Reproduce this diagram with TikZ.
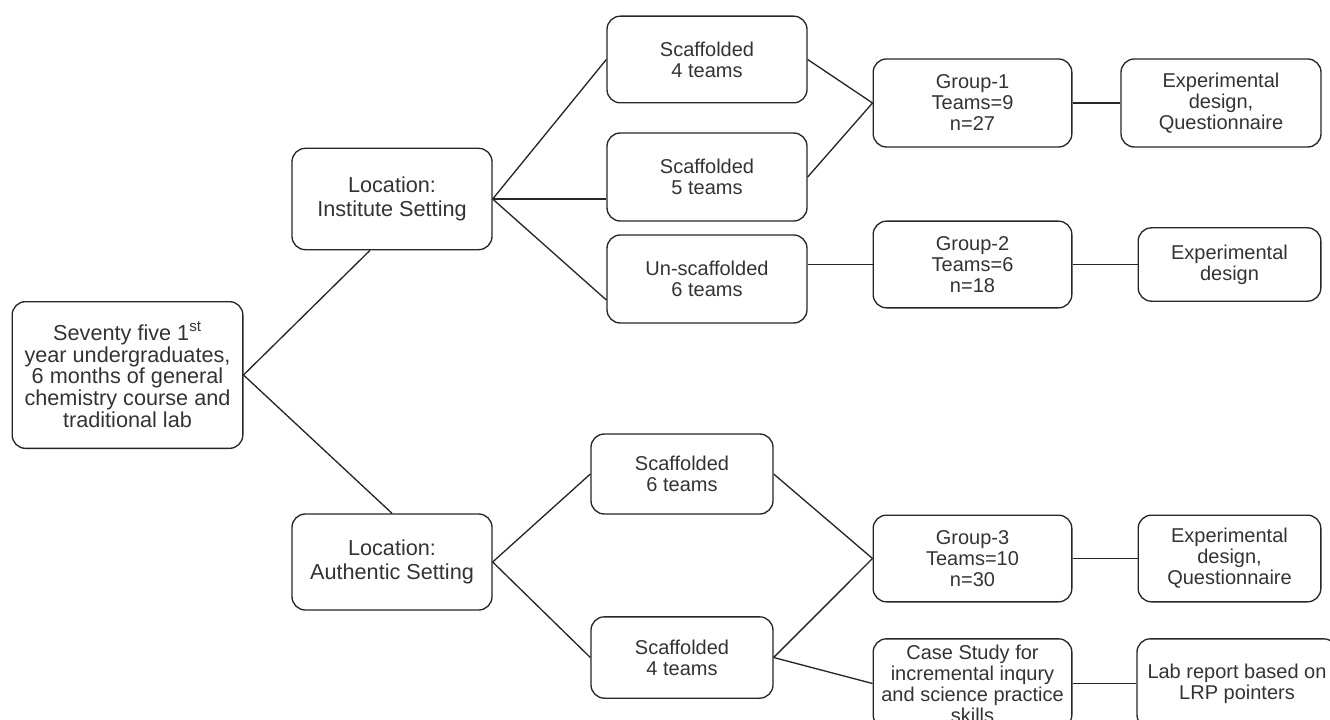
\documentclass[tikz,border=0pt]{standalone}
\usepackage{fontspec}
\setmainfont{Liberation Sans}
\usepackage{xcolor}
\usepackage{tikz}
\usetikzlibrary{calc}

\begin{document}
\begin{tikzpicture}[
  x=0.75pt, y=-0.75pt,
  every node/.style={font=\fontsize{15}{15.75}\selectfont, text=black!80},
  box/.style={draw=black!85, line width=1pt, rounded corners=10pt, minimum width=150pt, minimum height=66pt, align=center, inner sep=2pt},
  bigtext/.style={font=\fontsize{16.25}{16.4}\selectfont},
  loctext/.style={font=\fontsize{16.25}{17.6}\selectfont},
  link/.style={draw=black!85, line width=1pt},
]
\useasboundingbox (0,0) rectangle (1330,720);
\clip (0,0) rectangle (1330,720);
\node[box, bigtext, minimum width=173pt, minimum height=110pt] (root) at (127.5,375) {Seventy five 1\textsuperscript{st}\\year undergraduates,\\6 months of general\\chemistry course and\\traditional lab};
\node[box, loctext, minimum height=76pt] (inst) at (392,199) {Location:\\Institute Setting};
\node[box, loctext, minimum height=72pt] (auth) at (392,562) {Location:\\Authentic Setting};
\node[box, minimum height=65pt] (s4) at (707,59.5) {Scaffolded\\4 teams};
\node[box] (s5) at (707,177) {Scaffolded\\5 teams};
\node[box] (us6) at (707,279) {Un-scaffolded\\6 teams};
\node[box, minimum width=149pt] (g1) at (972.5,103) {Group-1\\Teams=9\\n=27};
\node[box, minimum width=149pt, minimum height=65pt] (g2) at (972.5,264.5) {Group-2\\Teams=6\\n=18};
\node[box] (e1) at (1221,103) {Experimental\\design,\\Questionnaire};
\node[box, minimum width=137pt, minimum height=55pt] (e2) at (1229.5,264.5) {Experimental\\design};
\node[box, minimum width=136.5pt, minimum height=60pt] (s6) at (682,474) {Scaffolded\\6 teams};
\node[box, minimum width=136.5pt, minimum height=61pt] (s4b) at (682,657.5) {Scaffolded\\4 teams};
\node[box, minimum width=149pt, minimum height=65pt] (g3) at (972.5,558.5) {Group-3\\Teams=10\\n=30};
\node[box, minimum width=137pt, minimum height=65pt] (e3) at (1229.5,558.5) {Experimental\\design,\\Questionnaire};
\node[box, minimum width=149pt, minimum height=67pt] (cs) at (972.5,683.5) {Case Study for\\incremental inqury\\and science practice\\skills};
\node[box, minimum height=67pt] (lab) at (1237,683.5) {Lab report based on\\LRP pointers};
% root to locations
\draw[link] (root.east) -- ([xshift=-16.5pt]inst.south);
\draw[link] (root.east) -- (auth.north);
% institute branch
\draw[link] (inst.east) -- (s4.west);
\draw[link] (inst.east) -- (inst.east -| s5.west);
\draw[link] (inst.east) -- ([yshift=-15.75pt]us6.west);
\draw[link] (s4.east) -- (g1.west);
\draw[link] (s5.east) -- (g1.west);
\draw[link] (g2.west -| us6.east) -- (g2.west);
\draw[link] (g1.east) -- (e1.west);
\draw[link] (g2.east) -- (e2.west);
% authentic branch
\draw[link] (auth.east) -- (s6.west);
\draw[link] (auth.east) -- (s4b.west);
\draw[link] (s6.east) -- (g3.west);
\draw[link] (s4b.east) -- (g3.west);
\draw[link] (s4b.east) -- (cs.west);
\draw[link] (g3.east) -- (e3.west);
\draw[link] (cs.east) -- (lab.west);
\end{tikzpicture}
\end{document}
